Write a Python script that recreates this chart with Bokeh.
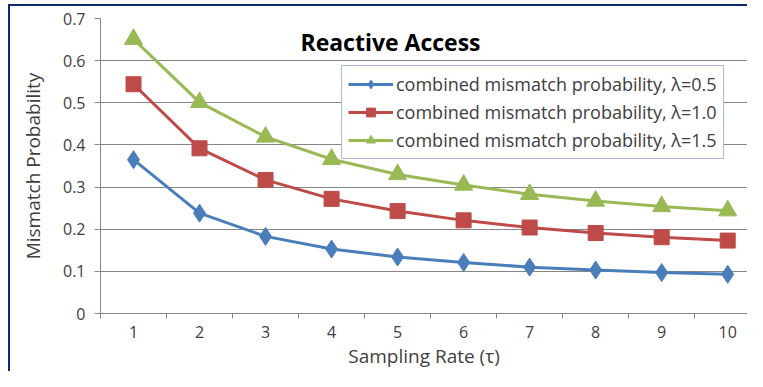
from bokeh.plotting import figure
from bokeh.models import FixedTicker, Label, Legend, LegendItem, Range1d
from bokeh.embed import file_html
from bokeh.resources import INLINE

rates = [1, 2, 3, 4, 5, 6, 7, 8, 9, 10]
lam05 = [0.365, 0.238, 0.183, 0.153, 0.134, 0.121, 0.110, 0.103, 0.097, 0.093]
lam10 = [0.544, 0.392, 0.317, 0.272, 0.243, 0.221, 0.204, 0.191, 0.181, 0.173]
lam15 = [0.651, 0.501, 0.419, 0.366, 0.330, 0.305, 0.283, 0.267, 0.254, 0.244]
y_ticks = [0, 0.1, 0.2, 0.3, 0.4, 0.5, 0.6, 0.7]
labels = ["combined mismatch probability, \u03bb=0.5",
          "combined mismatch probability, \u03bb=1.0",
          "combined mismatch probability, \u03bb=1.5"]

FONT = "Open Sans"
TXT = "#404040"
GRID = "#868686"
NAVY = "#0E2A6E"

p = figure(width=747, height=371, output_backend="svg", toolbar_location=None,
           x_range=Range1d(0.5, 10.3), y_range=Range1d(0, 0.7),
           min_border_left=100, min_border_right=0, min_border_top=18, min_border_bottom=58)
p.border_fill_alpha = 0
p.styles = {"background": f"linear-gradient({NAVY},{NAVY}) 8px 4px / 2px 100% no-repeat, "
                          f"linear-gradient({NAVY},{NAVY}) 8px 4px / 100% 2px no-repeat, white"}
p.outline_line_color = None
p.background_fill_color = "white"

# x axis: labels at category centres, tick marks at category boundaries
p.xaxis.ticker = FixedTicker(ticks=rates, minor_ticks=[r - 0.5 for r in rates] + [rates[-1] + 0.5])
p.xaxis.major_tick_out = 0
p.xaxis.major_tick_in = 0
p.xaxis.minor_tick_out = 5
p.xaxis.minor_tick_in = 0
p.xaxis.minor_tick_line_color = GRID
p.xaxis.axis_line_color = GRID
p.xaxis.major_label_text_font = FONT
p.xaxis.major_label_text_font_size = "16px"
p.xaxis.major_label_text_color = TXT
p.xaxis.major_label_standoff = 7
p.xaxis.axis_label = "Sampling Rate (\u03c4)"
p.xaxis.axis_label_text_font = FONT
p.xaxis.axis_label_text_font_style = "normal"
p.xaxis.axis_label_text_font_size = "19px"
p.xaxis.axis_label_text_color = TXT
p.xaxis.axis_label_standoff = 2

p.yaxis.ticker = FixedTicker(ticks=y_ticks)
p.yaxis.major_label_overrides = {0: "0"}
p.yaxis.major_tick_out = 6
p.yaxis.major_tick_in = 0
p.yaxis.minor_tick_line_color = None
p.yaxis.axis_line_color = GRID
p.yaxis.major_tick_line_color = GRID
p.yaxis.major_label_text_font = FONT
p.yaxis.major_label_text_font_size = "16px"
p.yaxis.major_label_text_color = TXT
p.yaxis.major_label_standoff = 9
p.yaxis.axis_label = "Mismatch Probability"
p.yaxis.axis_label_text_font = FONT
p.yaxis.axis_label_text_font_style = "normal"
p.yaxis.axis_label_text_font_size = "19px"
p.yaxis.axis_label_text_color = TXT
p.yaxis.axis_label_standoff = 14

p.xgrid.grid_line_color = None
p.ygrid.grid_line_color = GRID
p.ygrid.grid_line_width = 1

BLUE, RED, GREEN = "#4A7EBB", "#BE4B48", "#98B954"
l1 = p.line(rates, lam05, line_color=BLUE, line_width=3)
m1 = p.scatter(rates, lam05, marker="diamond", size=18, fill_color=BLUE, line_color=BLUE)
l2 = p.line(rates, lam10, line_color=RED, line_width=3)
m2 = p.scatter(rates, lam10, marker="square", size=15, fill_color=RED, line_color=RED)
l3 = p.line(rates, lam15, line_color=GREEN, line_width=3)
m3 = p.scatter(rates, lam15, marker="triangle", size=18, fill_color=GREEN, line_color=GREEN)

legend = Legend(items=[LegendItem(label=labels[0], renderers=[l1, m1]),
                       LegendItem(label=labels[1], renderers=[l2, m2]),
                       LegendItem(label=labels[2], renderers=[l3, m3])],
                location=(241, 154))
legend.border_line_color = "#5A78B0"
legend.border_line_width = 1
legend.background_fill_color = "white"
legend.background_fill_alpha = 1
legend.label_text_font = FONT
legend.label_text_font_size = "18px"
legend.label_text_color = TXT
legend.label_height = 22
legend.glyph_width = 45
legend.glyph_height = 22
legend.label_standoff = 3
legend.spacing = 4
legend.padding = 6
legend.margin = 0
p.add_layout(legend, "center")

title = Label(x=290, y=272, x_units="screen", y_units="screen", text="Reactive Access",
              text_font=FONT, text_font_style="bold", text_font_size="23px",
              text_color="black", text_align="center", text_baseline="middle")
p.add_layout(title)

open("out.html", "w").write(file_html(p, INLINE))
